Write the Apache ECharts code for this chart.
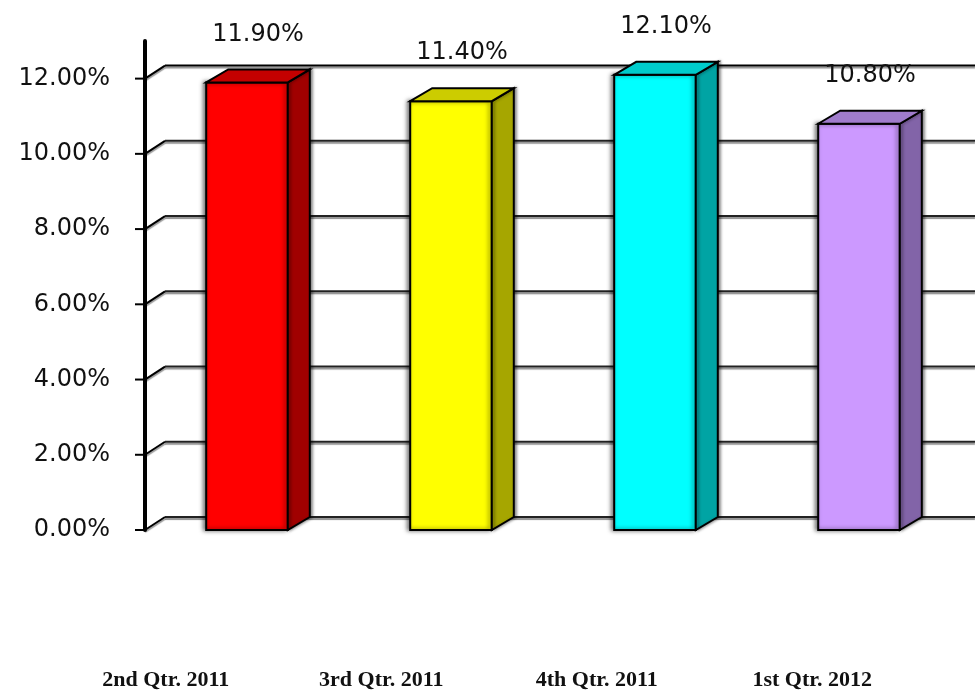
<!DOCTYPE html>
<html><head><meta charset="utf-8">
<script src="https://cdn.jsdelivr.net/npm/echarts@6/dist/echarts.min.js"></script>
<style>html,body{margin:0;padding:0;background:#fff}#c{width:975px;height:692px}</style>
</head><body><div id="c"></div>
<script>
var categories = ['2nd Qtr. 2011', '3rd Qtr. 2011', '4th Qtr. 2011', '1st Qtr. 2012'];
var rates = [11.9, 11.4, 12.1, 10.8];
var yTicks = [0, 2, 4, 6, 8, 10, 12];

var palette = [
  { front: '#FF0000', top: '#C40000', side: '#A00000' },
  { front: '#FFFF00', top: '#CCCC00', side: '#A6A600' },
  { front: '#00FFFF', top: '#00CCCC', side: '#00A4A4' },
  { front: '#CC99FF', top: '#A07CCC', side: '#8264A8' }
];
var BAR_DX = 22, BAR_DY = -13, WALL_DX = 20, WALL_DY = -13;
var LABEL_FONT = 'DejaVu Sans';

var chart = echarts.init(document.getElementById('c'), null, { renderer: 'canvas' });

function wallItem(params, api) {
  var v = api.value(1);
  var y = api.coord([0, v])[1];
  var x = params.coordSys.x;
  return {
    type: 'group',
    children: [
      { type: 'line', shape: { x1: x + WALL_DX, y1: y + WALL_DY, x2: 975, y2: y + WALL_DY },
        style: { stroke: v === 12 ? '#000' : '#222', lineWidth: 2, shadowColor: 'rgba(0,0,0,0.45)', shadowOffsetY: 2, shadowBlur: 1 } },
      { type: 'line', shape: { x1: x, y1: y, x2: x + WALL_DX, y2: y + WALL_DY },
        style: { stroke: '#000', lineWidth: 2, shadowColor: 'rgba(0,0,0,0.4)', shadowOffsetY: 2, shadowBlur: 1 } },
      { type: 'line', shape: { x1: x - 10, y1: y, x2: x, y2: y },
        style: { stroke: '#000', lineWidth: 2 } }
    ]
  };
}

function barItem(params, api) {
  var idx = api.value(0), v = api.value(1);
  var base = api.coord([idx, 0]);
  var top = api.coord([idx, v]);
  var w = api.size([1, 0])[0] * 0.4;
  var x0 = base[0] - w / 2, x1 = base[0] + w / 2, yb = base[1], yt = top[1];
  var c = palette[idx];
  var stroke = { stroke: '#000', lineWidth: 2, lineJoin: 'miter' };
  return {
    type: 'group',
    children: [
      { type: 'polygon', shape: { points: [[x0, yt], [x1, yt], [x1, yb], [x0, yb]] },
        style: Object.assign({ fill: c.front, shadowColor: 'rgba(0,0,0,0.5)', shadowBlur: 4, shadowOffsetX: -2 }, stroke) },
      { type: 'polygon', shape: { points: [[x1, yt], [x1 + BAR_DX, yt + BAR_DY], [x1 + BAR_DX, yb + BAR_DY], [x1, yb]] },
        style: Object.assign({ fill: c.side, shadowColor: 'rgba(0,0,0,0.4)', shadowBlur: 3, shadowOffsetX: 2 }, stroke) },
      { type: 'polygon', shape: { points: [[x0, yt], [x0 + BAR_DX, yt + BAR_DY], [x1 + BAR_DX, yt + BAR_DY], [x1, yt]] },
        style: Object.assign({ fill: c.top }, stroke) },
      { type: 'text', style: { text: rates[idx].toFixed(2) + '%', x: (x0 + x1 + BAR_DX) / 2, y: yt - 48,
        align: 'center', verticalAlign: 'middle', fontSize: 24, fontFamily: LABEL_FONT, fill: '#111' } }
    ]
  };
}

chart.setOption({
  animation: false,
  backgroundColor: '#fff',
  grid: [
    { left: 145, right: 14, top: 41, bottom: 162, outerBoundsMode: 'none', containLabel: false },
    { left: 58, right: 55, top: 41, bottom: 162, outerBoundsMode: 'none', containLabel: false }
  ],
  xAxis: [
    { gridIndex: 0, type: 'category', data: categories, axisLine: { show: false }, axisTick: { show: false },
      axisLabel: { show: false }, splitLine: { show: false } },
    { gridIndex: 1, type: 'category', data: categories, axisLine: { show: false }, axisTick: { show: false },
      splitLine: { show: false },
      axisLabel: { margin: 150, verticalAlign: 'middle', fontSize: 22, fontWeight: 'bold',
        fontFamily: 'Liberation Serif', color: '#111' } }
  ],
  yAxis: [
    { gridIndex: 0, type: 'value', min: 0, max: 13, interval: 2,
      axisLine: { show: true, lineStyle: { color: '#000', width: 4 } },
      axisTick: { show: false }, splitLine: { show: false },
      axisLabel: { margin: 35, fontSize: 24, fontFamily: LABEL_FONT, color: '#111',
        formatter: function (v) { return v > 12 ? '' : v.toFixed(2) + '%'; } } },
    { gridIndex: 1, type: 'value', min: 0, max: 13, show: false }
  ],
  series: [
    { type: 'custom', name: 'wall', coordinateSystem: 'cartesian2d', xAxisIndex: 0, yAxisIndex: 0,
      data: yTicks.map(function (v) { return [0, v]; }), renderItem: wallItem, clip: false, silent: true, z: 1 },
    { type: 'custom', name: 'bars', coordinateSystem: 'cartesian2d', xAxisIndex: 0, yAxisIndex: 0,
      data: rates.map(function (v, i) { return [i, v]; }), renderItem: barItem, clip: false, silent: true, z: 3 }
  ]
});
</script></body></html>
